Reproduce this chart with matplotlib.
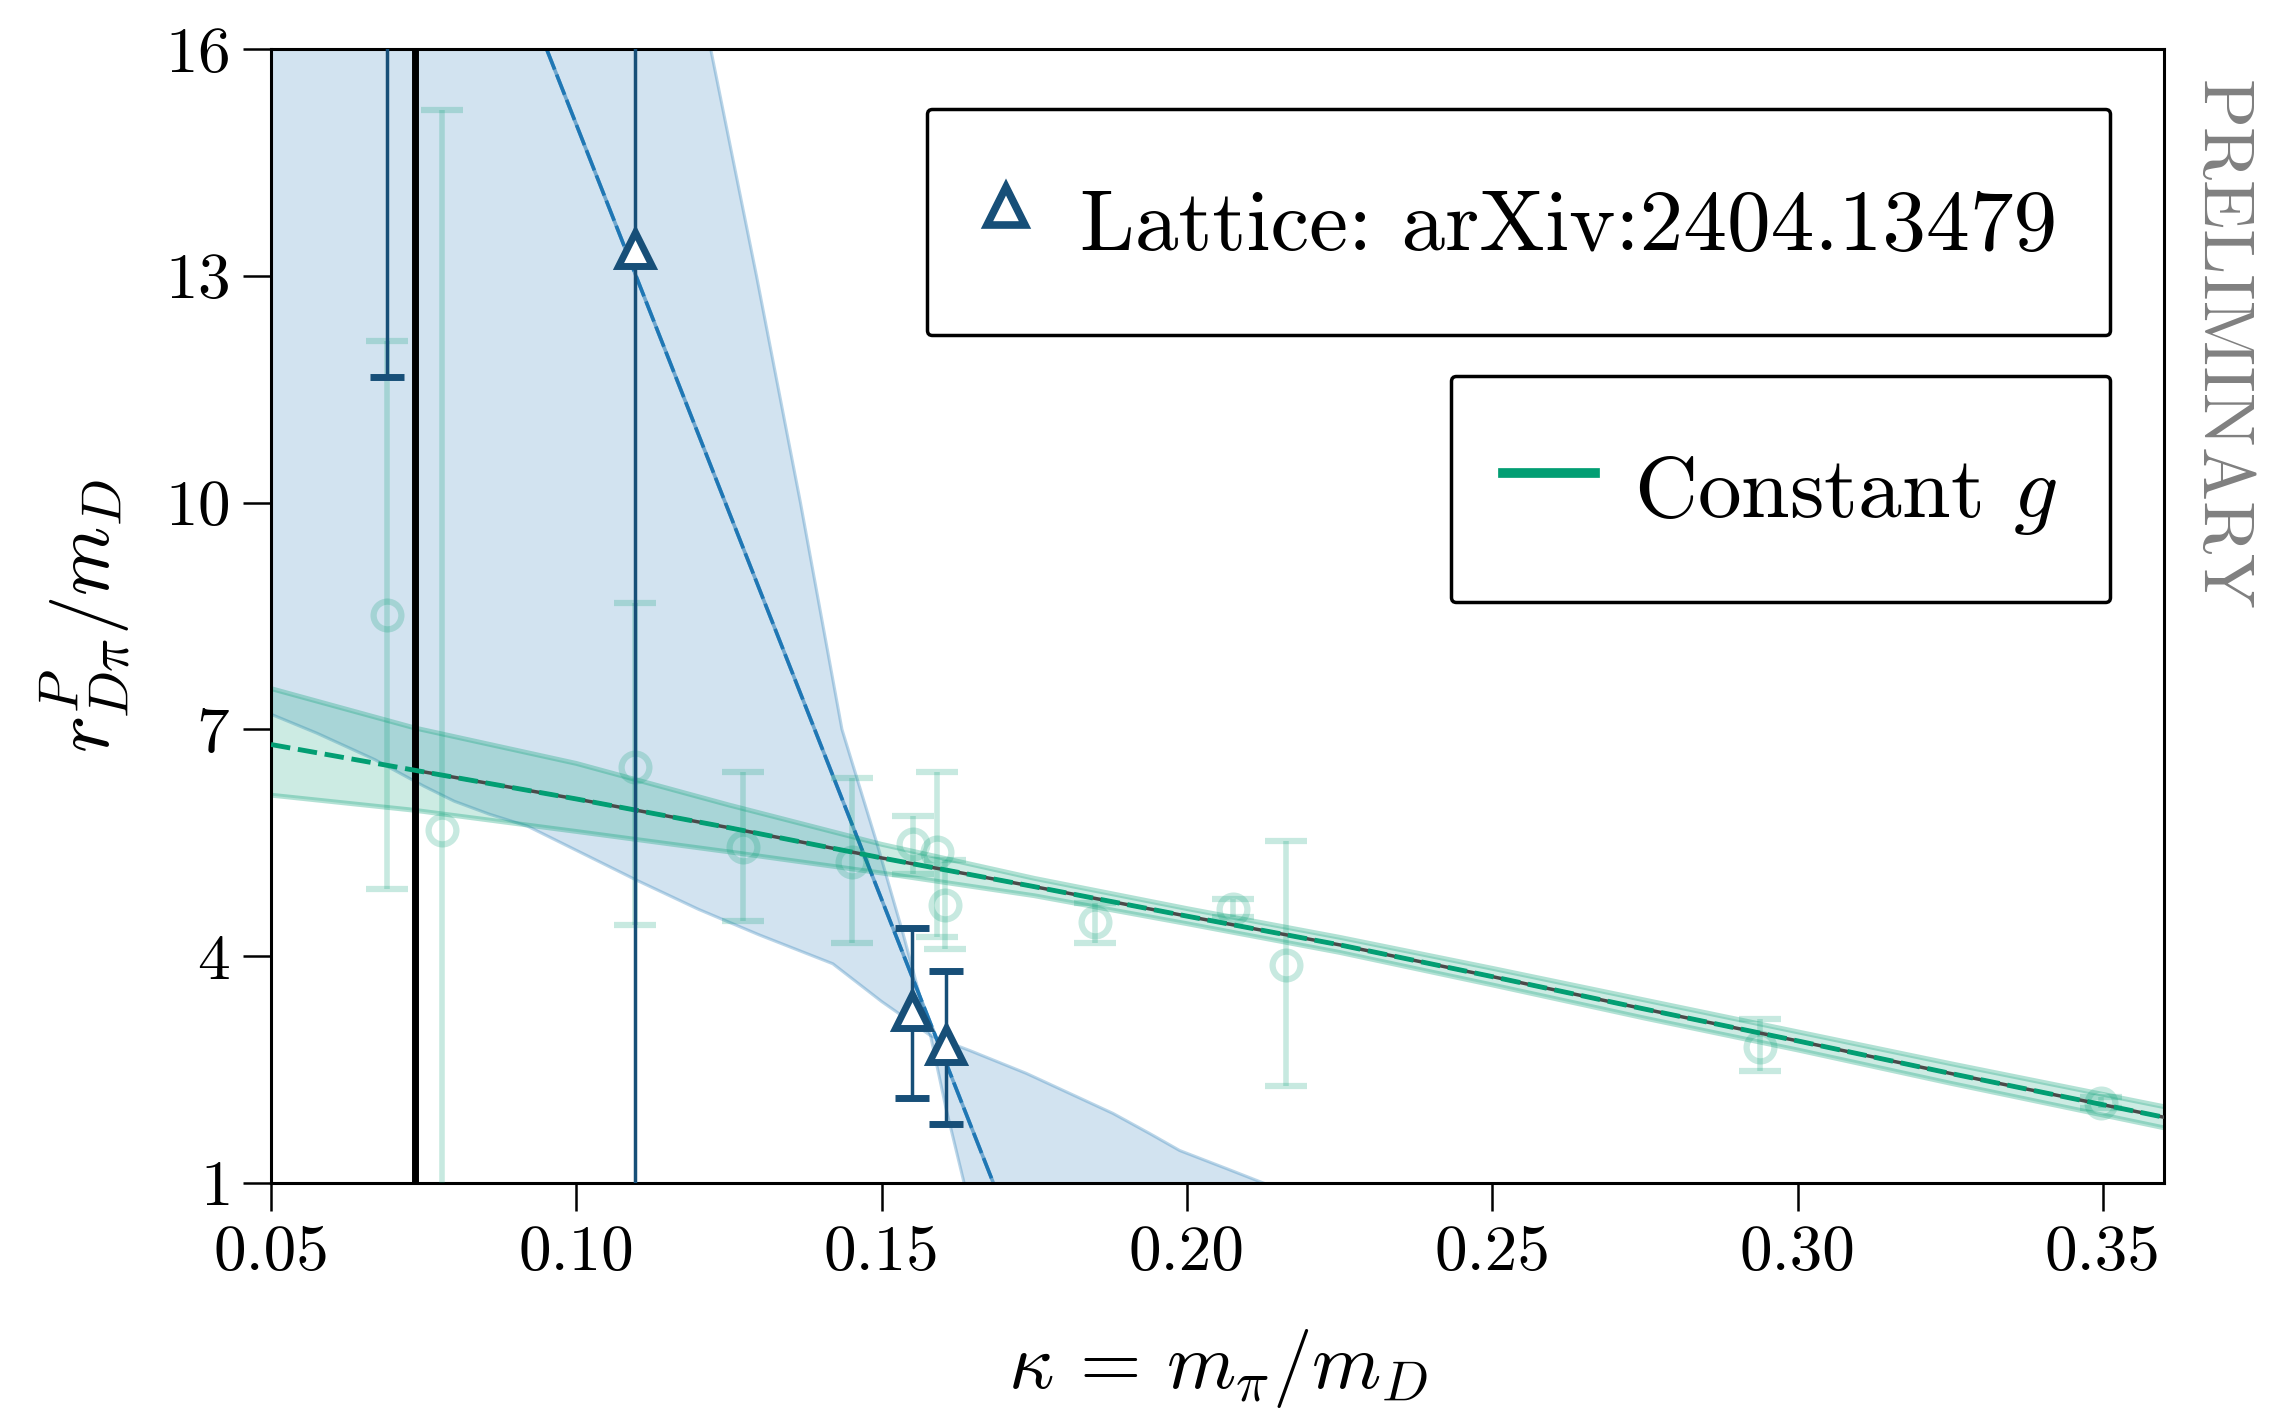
import numpy as np
import matplotlib
matplotlib.use("Agg")
import matplotlib.pyplot as plt
from matplotlib.lines import Line2D

plt.rcParams.update({
    "font.family": "serif",
    "font.serif": ["cmr10"],
    "mathtext.fontset": "cm",
    "axes.formatter.use_mathtext": True,
    "axes.unicode_minus": False,
})

GREEN = "#029e73"
LBLUE = "#1f77b4"
DBLUE = "#174f78"

# constant-g fit: central curve and band
kappa = [0.05, 0.0735, 0.10, 0.125, 0.15, 0.175, 0.20, 0.225, 0.25, 0.275, 0.30, 0.325, 0.36]
fit_mid = [6.80, 6.46, 6.08, 5.70, 5.30, 4.92, 4.53, 4.15, 3.73, 3.30, 2.88, 2.45, 1.87]
fit_hi = [7.54, 7.02, 6.55, 6.00, 5.48, 5.03, 4.63, 4.25, 3.84, 3.42, 3.00, 2.58, 2.01]
fit_lo = [6.13, 5.93, 5.65, 5.38, 5.10, 4.80, 4.43, 4.05, 3.62, 3.18, 2.76, 2.32, 1.73]

# lattice fit band: shallow edge (left to right) and steep edge (bottom to top)
band_a_x = [0.045, 0.05, 0.0575, 0.067, 0.075, 0.080, 0.0857, 0.092, 0.100, 0.110,
            0.120, 0.130, 0.142, 0.150, 0.158, 0.1645, 0.1737, 0.1879, 0.194, 0.1988,
            0.2065, 0.2125, 0.22]
band_a_y = [7.35, 7.20, 6.95, 6.60, 6.25, 6.05, 5.88, 5.72, 5.40, 5.00,
            4.62, 4.28, 3.90, 3.40, 2.95, 2.75, 2.45, 1.92, 1.65, 1.43,
            1.19, 1.00, 0.80]
band_b_x = [0.1665, 0.1635, 0.1605, 0.158, 0.1565, 0.1535, 0.1492, 0.1435, 0.1367,
            0.1295, 0.122, 0.118, 0.045]
band_b_y = [0.0, 1.0, 2.0, 2.95, 3.4, 4.3, 5.5, 7.0, 10.0, 13.0, 16.0, 17.5, 17.5]
lat_fit_x = [0.09, 0.172]
lat_fit_y = [17.05, 0.24]

# lattice points (arXiv:2404.13479)
lat_x = [0.069, 0.1096, 0.155, 0.1605]
lat_y = [20.0, 13.35, 3.27, 2.83]
lat_lo = [8.34, 13.0, 1.15, 1.05]
lat_hi = [5.0, 10.0, 1.10, 0.98]

# faded green data points
g_x = [0.069, 0.078, 0.1096, 0.1273, 0.1452, 0.1551, 0.159, 0.1604, 0.185,
       0.2075, 0.2163, 0.2938, 0.3497]
g_y = [8.51, 5.67, 6.50, 5.45, 5.24, 5.49, 5.38, 4.68, 4.45, 4.62, 3.89, 2.80, 2.06]
g_lo = [3.62, 9.53, 2.09, 0.98, 1.06, 0.40, 1.12, 0.59, 0.28, 0.10, 1.61, 0.32, 0.07]
g_hi = [3.63, 9.53, 2.17, 0.99, 1.12, 0.36, 1.06, 0.59, 0.25, 0.14, 1.64, 0.37, 0.08]

kappa_phys = 0.0735

fig = plt.figure(figsize=(22.74, 14.09), dpi=100)
ax = fig.add_axes([0.1192, 0.1604, 0.8324, 0.8048])

# lattice band
ax.fill(band_a_x + band_b_x, band_a_y + band_b_y, facecolor=LBLUE, alpha=0.2,
        edgecolor="none", zorder=1)
ax.plot(band_a_x, band_a_y, color=LBLUE, alpha=0.3, lw=2.2, zorder=1)
ax.plot(band_b_x, band_b_y, color=LBLUE, alpha=0.3, lw=2.2, zorder=1)
ax.plot(lat_fit_x, lat_fit_y, color=LBLUE, lw=2.6, alpha=0.55, zorder=2)
ax.plot(lat_fit_x, lat_fit_y, color=LBLUE, lw=2.6, ls=(0, (6, 1.5)), zorder=2)

# constant-g band
ax.fill_between(kappa, fit_lo, fit_hi, color=GREEN, alpha=0.2, lw=0, zorder=2)
ax.plot(kappa, fit_hi, color=GREEN, alpha=0.3, lw=3.5, zorder=2)
ax.plot(kappa, fit_lo, color=GREEN, alpha=0.3, lw=3.5, zorder=2)

# green data
ax.errorbar(g_x, g_y, yerr=[g_lo, g_hi], fmt="o", color=GREEN, alpha=0.22,
            ms=20, mfc="none", mew=4.5, elinewidth=4, capsize=15, capthick=4.5,
            zorder=3)

ax.axvline(kappa_phys, color="black", lw=5, zorder=4)

ax.plot(kappa[1:], fit_mid[1:], color="#4a4a4a", lw=2.5, zorder=5)
ax.plot(kappa, fit_mid, color=GREEN, lw=3.5, ls=(0, (4, 1.6)), zorder=5)

# lattice data
ax.errorbar(lat_x, lat_y, yerr=[lat_lo, lat_hi], fmt="^", color=DBLUE,
            ms=25, mfc="white", mec=DBLUE, mew=5, elinewidth=2.5,
            capsize=12, capthick=3, zorder=6)

ax.set_xlim(0.05, 0.36)
ax.set_ylim(1, 16)
ax.set_xticks([0.05, 0.10, 0.15, 0.20, 0.25, 0.30, 0.35])
ax.set_xticklabels(["0.05", "0.10", "0.15", "0.20", "0.25", "0.30", "0.35"])
ax.set_yticks([1, 4, 7, 10, 13, 16])
ax.tick_params(direction="out", length=20, width=1.8, pad=10, labelsize=47)
for sp in ax.spines.values():
    sp.set_linewidth(2.2)

ax.set_xlabel(r"$\kappa\,=\,m_\pi/m_D$", fontsize=57, labelpad=32)
ax.set_ylabel(r"$r^P_{D\pi}/m_D$", fontsize=57, labelpad=22)

h1 = Line2D([], [], ls="none", marker="^", ms=28, mfc="white", mec=DBLUE, mew=5.5)
leg1 = ax.legend([h1], ["Lattice: arXiv:2404.13479"], loc="upper right",
                 bbox_to_anchor=(0.9715, 0.947), bbox_transform=ax.transAxes,
                 borderaxespad=0, fontsize=63, frameon=True, framealpha=1,
                 edgecolor="black", borderpad=0.6, handlelength=0.6,
                 handletextpad=0.55, handleheight=1.75)
leg1.get_frame().set_linewidth(2.5)
leg1.get_frame().set_boxstyle("round", pad=0, rounding_size=0.06)
ax.add_artist(leg1)

h2 = Line2D([], [], color=GREEN, lw=7)
leg2 = ax.legend([h2], [r"Constant $g$"], loc="upper right",
                 bbox_to_anchor=(0.9715, 0.7116), bbox_transform=ax.transAxes,
                 borderaxespad=0, fontsize=63, frameon=True, framealpha=1,
                 edgecolor="black", borderpad=0.6, handlelength=1.05,
                 handletextpad=0.45, handleheight=1.75)
leg2.get_frame().set_linewidth(2.5)
leg2.get_frame().set_boxstyle("round", pad=0, rounding_size=0.06)

fig.text(0.9758, 0.943, "PRELIMINARY", rotation=270, ha="center", va="top",
         fontsize=52, color="#808080")

fig.savefig("out.png", dpi=100)
